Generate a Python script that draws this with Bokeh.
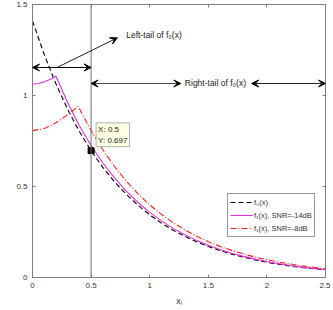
from math import pi
from bokeh.plotting import figure
from bokeh.models import (Range1d, FixedTicker, LinearAxis, Arrow, VeeHead, Label,
                          Span, Legend, LegendItem)
from bokeh.embed import file_html
from bokeh.resources import INLINE

# ---------------- data ----------------
x_f0 = [0.0, 0.1, 0.2, 0.3, 0.4, 0.5, 0.6, 0.7, 0.8, 0.9, 1.0, 1.1, 1.2, 1.3,
        1.4, 1.5, 1.6, 1.7, 1.8, 1.9, 2.0, 2.1, 2.2, 2.3, 2.4, 2.5]
f0 = [1.410, 1.225, 1.064, 0.924, 0.802, 0.697, 0.605, 0.526, 0.457, 0.397,
      0.344, 0.299, 0.260, 0.226, 0.196, 0.170, 0.148, 0.128, 0.112, 0.097,
      0.084, 0.073, 0.063, 0.055, 0.048, 0.042]

x_f1a = [0.0, 0.05, 0.1, 0.15, 0.2, 0.3, 0.4, 0.5, 0.6, 0.7, 0.8, 0.9, 1.0,
         1.1, 1.2, 1.3, 1.4, 1.5, 1.6, 1.7, 1.8, 1.9, 2.0, 2.1, 2.2, 2.3, 2.4, 2.5]
f1_m14 = [1.062, 1.066, 1.075, 1.088, 1.106, 0.961, 0.834, 0.725, 0.629, 0.547,
          0.475, 0.412, 0.358, 0.311, 0.270, 0.235, 0.204, 0.177, 0.154, 0.133,
          0.116, 0.101, 0.088, 0.076, 0.066, 0.057, 0.050, 0.043]

x_f1b = [0.0, 0.1, 0.2, 0.3, 0.39, 0.5, 0.6, 0.7, 0.8, 0.9, 1.0, 1.1, 1.2, 1.3,
         1.4, 1.5, 1.6, 1.7, 1.8, 1.9, 2.0, 2.1, 2.2, 2.3, 2.4, 2.5]
f1_m8 = [0.807, 0.818, 0.850, 0.894, 0.940, 0.808, 0.702, 0.610, 0.530, 0.460,
         0.399, 0.347, 0.301, 0.262, 0.227, 0.197, 0.171, 0.149, 0.129, 0.112,
         0.098, 0.085, 0.074, 0.064, 0.056, 0.048]

series_labels = ["f\u2080(x)", "f\u2081(x), SNR=-14dB", "f\u2081(x), SNR=-8dB"]

x_ticks = [0, 0.5, 1, 1.5, 2, 2.5]
x_tick_labels = ["0", "0.5", "1", "1.5", "2", "2.5"]
y_ticks = [0, 0.5, 1, 1.5]
y_tick_labels = ["0", "0.5", "1", "1.5"]

threshold_x = 0.5
tip_x, tip_y = 0.5, 0.697

FONT = "Liberation Sans"
AXIS_C = "#808080"
TEXT_C = "#333333"

p = figure(frame_width=293, frame_height=273,
           min_border_left=32, min_border_right=5,
           min_border_top=4, min_border_bottom=29,
           x_range=Range1d(0, 2.5), y_range=Range1d(0, 1.5),
           output_backend="svg", toolbar_location=None)
p.grid.visible = False
p.outline_line_color = AXIS_C
p.outline_line_alpha = 1
p.background_fill_color = "white"

for ax, ticks, labels in ((p.xaxis[0], x_ticks, x_tick_labels),
                          (p.yaxis[0], y_ticks, y_tick_labels)):
    ax.ticker = FixedTicker(ticks=ticks)
    ax.major_label_overrides = {float(t): l for t, l in zip(ticks, labels)}
    ax.major_label_text_font = FONT
    ax.major_label_text_font_size = "8px"
    ax.major_label_text_color = TEXT_C
    ax.major_tick_in = 3
    ax.major_tick_out = 0
    ax.minor_tick_line_color = None
    ax.axis_line_color = AXIS_C
    ax.major_tick_line_color = AXIS_C
    ax.major_label_standoff = 5

p.xaxis[0].axis_label = "x\u1d62"
p.xaxis[0].axis_label_text_font = FONT
p.xaxis[0].axis_label_text_font_size = "8.5px"
p.xaxis[0].axis_label_text_font_style = "normal"
p.xaxis[0].axis_label_text_color = TEXT_C
p.xaxis[0].axis_label_standoff = 5

for side, ticks in (("above", x_ticks), ("right", y_ticks)):
    ax = LinearAxis(ticker=FixedTicker(ticks=ticks))
    ax.major_label_overrides = {float(t): "" for t in ticks}
    ax.major_label_text_font_size = "1px"
    ax.major_label_standoff = 0
    ax.major_tick_in = 3
    ax.major_tick_out = 0
    ax.minor_tick_line_color = None
    ax.axis_line_color = AXIS_C
    ax.major_tick_line_color = AXIS_C
    p.add_layout(ax, side)

# y label as a rotated text
p.add_layout(Label(x=0, y=0.75, x_offset=-19, text="PDF", angle=pi / 2,
                   text_align="center", text_baseline="middle",
                   text_font=FONT, text_font_size="8.5px", text_color=TEXT_C))

# vertical threshold line
p.add_layout(Span(location=threshold_x, dimension="height",
                  line_color="#707070", line_width=1))

# curves
r0 = p.line(x_f0, f0, line_color="black", line_width=1.1, line_dash="5 3")
r1 = p.line(x_f1a, f1_m14, line_color="#e030e0", line_width=1.1)
r2 = p.line(x_f1b, f1_m8, line_color="#ff1a1a", line_width=1.1,
            line_dash="6 2 1 2")

# data tip
p.scatter([tip_x], [tip_y], marker="square", size=6, color="black")
p.add_layout(Label(x=tip_x, y=tip_y, x_offset=5, y_offset=4,
                   text="X: 0.5\nY: 0.697", text_font=FONT,
                   text_font_size="8px", text_color="#222222",
                   text_align="left", text_baseline="bottom",
                   background_fill_color="#ffffe1",
                   border_line_color="#b0b0b0", padding=2))

# arrows
def head():
    return VeeHead(size=7, fill_color="black", line_color="black")

left_y = 1.154
right_y = 1.066
p.add_layout(Arrow(start=head(), end=head(), x_start=0, y_start=left_y,
                   x_end=threshold_x, y_end=left_y, line_color="black",
                   line_width=1))
p.add_layout(Arrow(end=head(), x_start=0.21, y_start=left_y,
                   x_end=0.724, y_end=1.317, line_color="#222222",
                   line_width=1))
p.add_layout(Arrow(start=head(), end=head(), x_start=threshold_x,
                   y_start=right_y, x_end=1.265, y_end=right_y,
                   line_color="#444444", line_width=1))
p.add_layout(Arrow(start=head(), end=head(), x_start=1.87, y_start=right_y,
                   x_end=2.5, y_end=right_y, line_color="#222222",
                   line_width=1))

p.add_layout(Label(x=0.80, y=1.33, text="Left-tail of f\u2080(x)",
                   text_font=FONT, text_font_size="8.5px", text_color="#222222",
                   text_align="left", text_baseline="middle"))
p.add_layout(Label(x=1.30, y=right_y, text="Right-tail of f\u2080(x)",
                   text_font=FONT, text_font_size="8.5px", text_color="#222222",
                   text_align="left", text_baseline="middle"))

legend = Legend(items=[LegendItem(label=series_labels[0], renderers=[r0]),
                       LegendItem(label=series_labels[1], renderers=[r1]),
                       LegendItem(label=series_labels[2], renderers=[r2])],
                location=(195, 40))
legend.label_text_font = FONT
legend.label_text_font_size = "7.5px"
legend.label_text_color = TEXT_C
legend.glyph_width = 23
legend.glyph_height = 12
legend.label_height = 12
legend.label_standoff = 1
legend.spacing = 1
legend.padding = 2
legend.margin = 0
legend.border_line_color = "#333333"
legend.border_line_width = 1
legend.background_fill_alpha = 1
p.add_layout(legend, "center")

open("out.html", "w").write(file_html(p, INLINE))
